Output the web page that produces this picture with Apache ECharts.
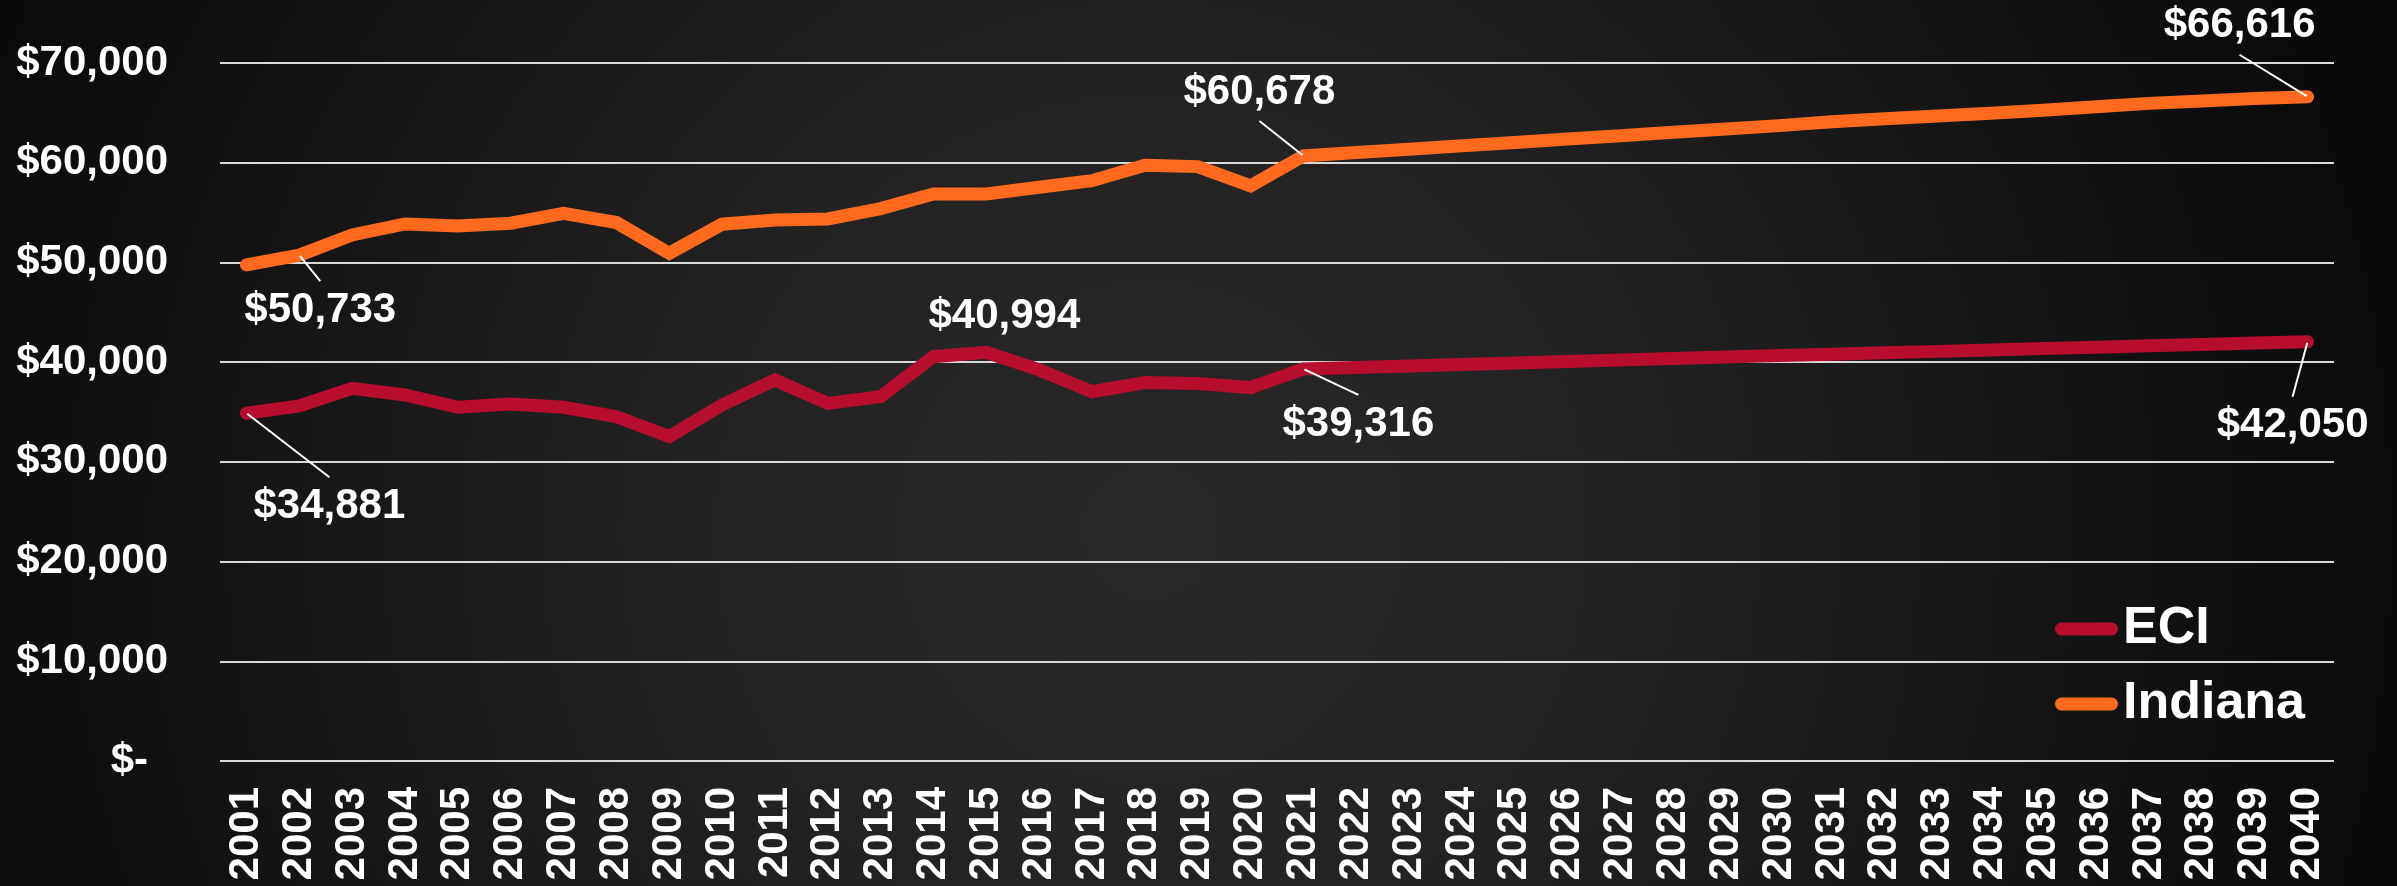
<!DOCTYPE html>
<html>
<head>
<meta charset="utf-8">
<script src="https://cdn.jsdelivr.net/npm/echarts@6/dist/echarts.min.js"></script>
<style>
html,body{margin:0;padding:0;background:#111;}
#c{width:2397px;height:886px;}
</style>
</head>
<body>
<div id="c"></div>
<script>
const years = ['2001','2002','2003','2004','2005','2006','2007','2008','2009','2010',
  '2011','2012','2013','2014','2015','2016','2017','2018','2019','2020',
  '2021','2022','2023','2024','2025','2026','2027','2028','2029','2030',
  '2031','2032','2033','2034','2035','2036','2037','2038','2039','2040'];

const eci = [34881, 35610, 37380, 36710, 35470, 35810, 35470, 34530, 32530, 35710,
  38210, 35870, 36540, 40550, 40994, 39220, 37040, 37950, 37850, 37450,
  39316, 39470, 39620, 39770, 39920, 40070, 40220, 40370, 40510, 40660,
  40800, 40940, 41080, 41220, 41360, 41500, 41640, 41780, 41920, 42050];

const indiana = [49750, 50733, 52760, 53860, 53660, 53930, 54930, 54000, 50920, 53830,
  54260, 54360, 55400, 56870, 56870, 57540, 58200, 59750, 59610, 57670,
  60678, 61016, 61354, 61692, 62030, 62368, 62706, 63044, 63382, 63720,
  64100, 64400, 64680, 64960, 65250, 65620, 65950, 66200, 66430, 66616];

const yTicks = [0, 10000, 20000, 30000, 40000, 50000, 60000, 70000];

// indices of the points that carry a value label
const eciLabelled = [0, 14, 20, 39];
const indianaLabelled = [1, 20, 39];

// label placement styling (pixel offsets from the point), and which labels have a leader line
const eciLabelOffset = {0: [83, 93], 14: [18, -36], 20: [55, 55], 39: [-15, 84]};
const indianaLabelOffset = {1: [21, 55], 20: [-44, -64], 39: [-68, -71]};
const noLeader = {eci: [14], indiana: []};

const FONT = "'Liberation Sans', Arial, Helvetica, sans-serif";
const fmt = v => '$' + Number(v).toLocaleString('en-US');

function buildData(values, labelled, noLeaderList) {
  return values.map((v, i) => {
    if (labelled.indexOf(i) < 0) return v;
    return {
      value: v,
      label: {show: true},
      labelLine: {show: noLeaderList.indexOf(i) < 0}
    };
  });
}

function layoutFor(offsets) {
  return function (p) {
    const o = offsets[p.dataIndex];
    if (!o) return {};
    return {
      x: p.rect.x + p.rect.width / 2 + o[0],
      y: p.rect.y + p.rect.height / 2 + o[1],
      align: 'center',
      verticalAlign: 'middle'
    };
  };
}

const labelStyle = {
  show: false,
  color: '#ffffff',
  fontFamily: FONT,
  fontWeight: 'bold',
  fontSize: 42,
  lineHeight: 42,
  padding: [8, 100, 8, 100],
  formatter: p => fmt(p.value)
};

const chart = echarts.init(document.getElementById('c'), null, {renderer: 'canvas'});
chart.setOption({
  animation: false,
  backgroundColor: {
    type: 'radial', x: 0.48, y: 0.6, r: 1.5,
    colorStops: [
      {offset: 0, color: '#282828'},
      {offset: 0.35, color: '#222222'},
      {offset: 0.7, color: '#141414'},
      {offset: 1, color: '#080808'}
    ]
  },
  grid: {left: 220, right: 63, top: 63, bottom: 125, containLabel: false},
  legend: {
    orient: 'vertical',
    left: 2050,
    top: 598,
    itemWidth: 63,
    itemHeight: 13,
    itemGap: 23,
    icon: 'path://M6.5 0H56.5A6.5 6.5 0 0 1 56.5 13H6.5A6.5 6.5 0 0 1 6.5 0Z',
    textStyle: {color: '#ffffff', fontSize: 52, fontWeight: 'bold', fontFamily: FONT, lineHeight: 52},
    data: ['ECI', 'Indiana']
  },
  xAxis: {
    type: 'category',
    data: years,
    boundaryGap: true,
    axisLine: {show: false},
    axisTick: {show: false},
    axisLabel: {
      interval: 0,
      rotate: 90,
      margin: 26,
      color: '#ffffff',
      fontFamily: FONT,
      fontWeight: 'bold',
      fontSize: 42
    },
    splitLine: {show: false}
  },
  yAxis: {
    type: 'value',
    min: yTicks[0],
    max: yTicks[yTicks.length - 1],
    interval: yTicks[1] - yTicks[0],
    axisLine: {show: false},
    axisTick: {show: false},
    axisLabel: {
      margin: 52,
      color: '#ffffff',
      fontFamily: FONT,
      fontWeight: 'bold',
      fontSize: 42,
      formatter: v => v === 0 ? '{z|$-}' : fmt(v),
      rich: {
        z: {color: '#ffffff', fontFamily: FONT, fontWeight: 'bold', fontSize: 42, padding: [0, 20, 0, 0]}
      }
    },
    splitLine: {show: true, lineStyle: {color: '#d9d9d9', width: 2}}
  },
  series: [
    {
      name: 'ECI',
      type: 'line',
      data: buildData(eci, eciLabelled, noLeader.eci),
      color: '#B70D2F',
      showSymbol: true,
      showAllSymbol: true,
      symbol: 'circle',
      symbolSize: 2,
      itemStyle: {color: '#B70D2F'},
      lineStyle: {color: '#B70D2F', width: 13, cap: 'round', join: 'miter'},
      label: labelStyle,
      labelLine: {show: true, length2: 0, lineStyle: {color: '#ffffff', width: 2}},
      labelLayout: layoutFor(eciLabelOffset),
      emphasis: {disabled: true},
      z: 3
    },
    {
      name: 'Indiana',
      type: 'line',
      data: buildData(indiana, indianaLabelled, noLeader.indiana),
      color: '#FF6A1F',
      showSymbol: true,
      showAllSymbol: true,
      symbol: 'circle',
      symbolSize: 2,
      itemStyle: {color: '#FF6A1F'},
      lineStyle: {color: '#FF6A1F', width: 13, cap: 'round', join: 'miter'},
      label: labelStyle,
      labelLine: {show: true, length2: 0, lineStyle: {color: '#ffffff', width: 2}},
      labelLayout: layoutFor(indianaLabelOffset),
      emphasis: {disabled: true},
      z: 3
    }
  ]
});
</script>
</body>
</html>
